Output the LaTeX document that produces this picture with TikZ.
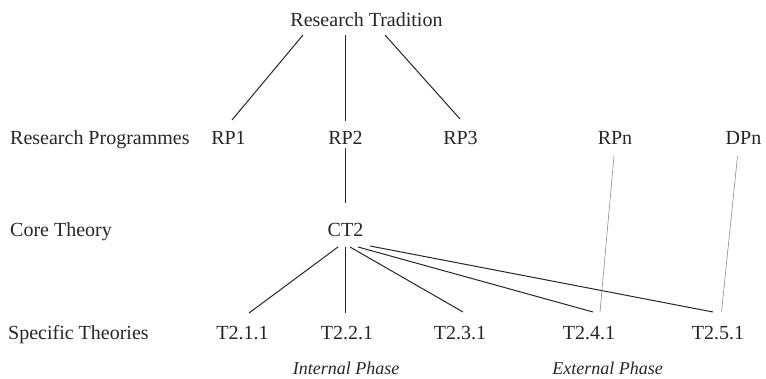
\documentclass[tikz,border=0pt]{standalone}
\usepackage{fontspec}
\setmainfont{Liberation Serif}
\begin{document}
\begin{tikzpicture}[x=1pt,y=-1pt,
  lbl/.style={inner sep=0pt, anchor=base, text=black!85, font=\fontsize{20}{24}\selectfont},
  rowlbl/.style={lbl, anchor=base west},
  phase/.style={inner sep=0pt, anchor=base, text=black!85, font=\fontsize{18}{22}\selectfont\itshape},
  link/.style={line width=1pt, draw=black!85},
  faint/.style={line width=0.6pt, draw=black!45}]
\useasboundingbox (0,0) rectangle (766,379);

% texts
\node[lbl] (rt) at (366.5,27) {Research Tradition};
\node[rowlbl] (lrp) at (10,145) {Research Programmes};
\node[lbl] (rp1) at (228.5,145) {RP1};
\node[lbl] (rp2) at (345.5,145) {RP2};
\node[lbl] (rp3) at (460.5,145) {RP3};
\node[lbl] (rpn) at (615,145) {RPn};
\node[lbl] (dpn) at (743.5,145) {DPn};
\node[rowlbl] (lct) at (10,237) {Core Theory};
\node[lbl] (ct2) at (345.5,237) {CT2};
\node[rowlbl] (lst) at (8,340) {Specific Theories};
\node[lbl] (t211) at (242.5,340) {T2.1.1};
\node[lbl] (t221) at (347,340) {T2.2.1};
\node[lbl] (t231) at (460,340) {T2.3.1};
\node[lbl] (t241) at (589,340) {T2.4.1};
\node[lbl] (t251) at (718,340) {T2.5.1};
\node[phase] (ip) at (346,374) {Internal Phase};
\node[phase] (ep) at (607.5,374) {External Phase};

% attachment points
\coordinate (rt-a) at (303,35);
\coordinate (rt-b) at (345.5,35);
\coordinate (rt-c) at (385,35);
\coordinate (rp1-t) at (232,120);
\coordinate (rp2-t) at (345.5,121);
\coordinate (rp3-t) at (460,119);
\coordinate (rp2-b) at (345.5,148);
\coordinate (ct2-t) at (345.5,203);
\coordinate (ct2-a) at (338,247);
\coordinate (ct2-b) at (345.5,247);
\coordinate (ct2-c) at (350,247);
\coordinate (ct2-d) at (358,247);
\coordinate (ct2-e) at (370,246);
\coordinate (t211-t) at (249,313);
\coordinate (t221-t) at (345.5,313);
\coordinate (t231-t) at (463,312);
\coordinate (t241-t) at (593,312);
\coordinate (t251-t) at (713,312);
\coordinate (rpn-b) at (614,156);
\coordinate (dpn-b) at (737.5,156);
\coordinate (t241-g) at (600,312);
\coordinate (t251-g) at (721.5,312);

% connectors
\draw[link] (rt-a) -- (rp1-t);
\draw[link] (rt-b) -- (rp2-t);
\draw[link] (rt-c) -- (rp3-t);
\draw[link] (rp2-b) -- (ct2-t);
\draw[link] (ct2-a) -- (t211-t);
\draw[link] (ct2-b) -- (t221-t);
\draw[link] (ct2-c) -- (t231-t);
\draw[link] (ct2-d) -- (t241-t);
\draw[link] (ct2-e) -- (t251-t);
\draw[faint] (rpn-b) -- (t241-g);
\draw[faint] (dpn-b) -- (t251-g);
\end{tikzpicture}
\end{document}
